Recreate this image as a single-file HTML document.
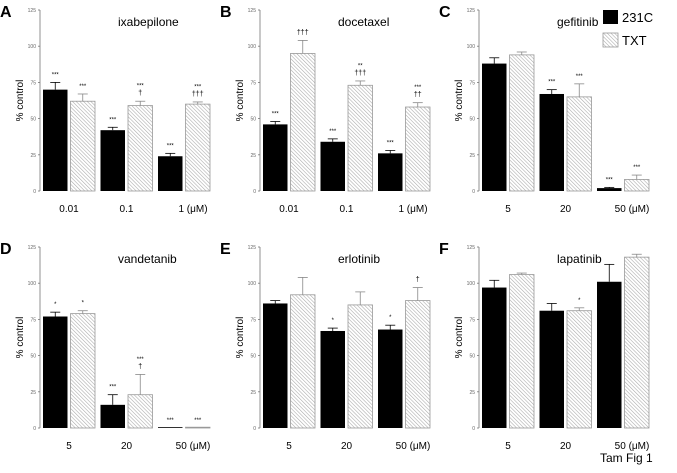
<!DOCTYPE html>
<html><head><meta charset="utf-8"><style>
body{margin:0;background:#fff;}
svg text{font-family:"Liberation Sans",Arial,sans-serif;}
</style></head><body>
<svg id="fig" width="677" height="468" viewBox="0 0 677 468" xmlns="http://www.w3.org/2000/svg">
<defs>
<pattern id="hatch" patternUnits="userSpaceOnUse" width="2.6" height="2.6" patternTransform="rotate(-45)">
<rect width="2.6" height="2.6" fill="#fff"/>
<line x1="0" y1="0" x2="0" y2="2.6" stroke="#a8a8a8" stroke-width="1.1"/>
</pattern>
</defs>
<g>
<rect x="603" y="10" width="15" height="14" fill="#000"/>
<text x="622" y="22" font-size="13">231C</text>
<rect x="603" y="33" width="15" height="14" fill="url(#hatch)" stroke="#999" stroke-width="0.8"/>
<text x="622" y="45" font-size="13">TXT</text>
</g>
<text x="600" y="462" font-size="12">Tam Fig 1</text>
</svg>
<script>
const panelLetters = ["A","B","C","D","E","F"];
const panelTitles = ["ixabepilone","docetaxel","gefitinib","vandetanib","erlotinib","lapatinib"];
const panelCategories = [["0.01","0.1","1 (μM)"],["0.01","0.1","1 (μM)"],["5","20","50 (μM)"],["5","20","50 (μM)"],["5","20","50 (μM)"],["5","20","50 (μM)"]];
const values231C = [[70,42,24],[46,34,26],[88,67,2],[77,16,0],[86,67,68],[97,81,101]];
const errors231C = [[5,2,2],[2,2,2],[4,3,0.5],[3,7,0],[2,2,3],[5,5,12]];
const valuesTXT = [[62,59,60],[95,73,58],[94,65,8],[79,23,0],[92,85,88],[106,81,118]];
const errorsTXT = [[5,3,1.5],[9,3,3],[2,9,3],[2,14,0],[12,9,9],[1,2,2]];
const sig231C = [[["***"],["***"],["***"]],[["***"],["***"],["***"]],[[],["***"],["***"]],[["*"],["***"],["***"]],[[],["*"],["*"]],[[],[],[]]];
const sigTXT = [[["***"],["***","†"],["***","†††"]],[["†††"],["**","†††"],["***","††"]],[[],["***"],["***"]],[["*"],["***","†"],["***"]],[[],[],["†"]],[[],["*"],[]]];
const yTicks = [0,25,50,75,100,125];

const svg = document.getElementById('fig');
const NS = "http://www.w3.org/2000/svg";
function mk(tag, attrs, parent){const e=document.createElementNS(NS,tag);for(const k in attrs)e.setAttribute(k,attrs[k]);(parent||svg).appendChild(e);return e;}
const axisXs=[40,260,479], zeroYs=[191,428];
const plotH=181, yMax=125;
panelTitles.forEach((title,p)=>{
  const ax=axisXs[p%3], y0=zeroYs[Math.floor(p/3)];
  const ys=v=>y0-v/yMax*plotH;
  const g=mk('g',{});
  
  
  const L=mk('text',{x:ax-40,y:ys(125)+7,'font-size':16,'font-weight':'bold'},g);L.textContent=panelLetters[p];
  
  
  const T=mk('text',{x:ax+78,y:ys(125)+16,'font-size':12},g);T.textContent=title;
  
  
  const yl=mk('line',{x1:ax,y1:ys(0),x2:ax,y2:ys(125),stroke:'#777','stroke-width':0.8},g);
  
  
  yTicks.forEach(t=>{
    mk('line',{x1:ax-2,y1:ys(t),x2:ax,y2:ys(t),stroke:'#777','stroke-width':0.8},g);
    const tl=mk('text',{x:ax-4,y:ys(t)+2,'font-size':5,'text-anchor':'end',fill:'#666'},g);tl.textContent=t;
    
    
  });
  const yt=mk('text',{transform:`translate(${ax-17},${ys(62.5)}) rotate(-90)`,'font-size':10,'text-anchor':'middle'},g);yt.textContent='% control';
  
  
  panelCategories[p].forEach((c,i)=>{
    const bx=ax+3+i*57.5;
    const series=[[values231C[p][i],errors231C[p][i],'#000','none',sig231C[p][i],bx],[valuesTXT[p][i],errorsTXT[p][i],'url(#hatch)','#999',sigTXT[p][i],bx+27.5]];
    series.forEach((s,k)=>{
      const [v,e,fill,stroke,sig,x]=s;
      const top=ys(v), h=Math.max(ys(0)-top,0.8);
      const r=mk('rect',{x:x,y:ys(0)-h,width:24.5,height:h,fill:fill,stroke:stroke,'stroke-width':0.8},g);
      
      
      if(e>0){
        const cx=x+12.25, et=ys(v+e);
        mk('line',{x1:cx,y1:top,x2:cx,y2:et,stroke:k?'#888':'#000','stroke-width':0.8},g);
        mk('line',{x1:cx-5,y1:et,x2:cx+5,y2:et,stroke:k?'#888':'#000','stroke-width':0.8},g);
      }
      const base=ys(v+e)-6;
      sig.forEach((s2,j)=>{
        const tt=mk('text',{x:x+12.25,y:base-(sig.length-1-j)*7.5,'font-size':s2.indexOf('†')>=0?7:6,'text-anchor':'middle'},g);
        tt.textContent=s2;
        
        
      });
    });
    const lx=bx+26+(i==2?9:0);
    const xl=mk('text',{x:lx,y:ys(0)+21,'font-size':10,'text-anchor':'middle'},g);xl.textContent=c;
    
    
  });
});
</script>
</body></html>
